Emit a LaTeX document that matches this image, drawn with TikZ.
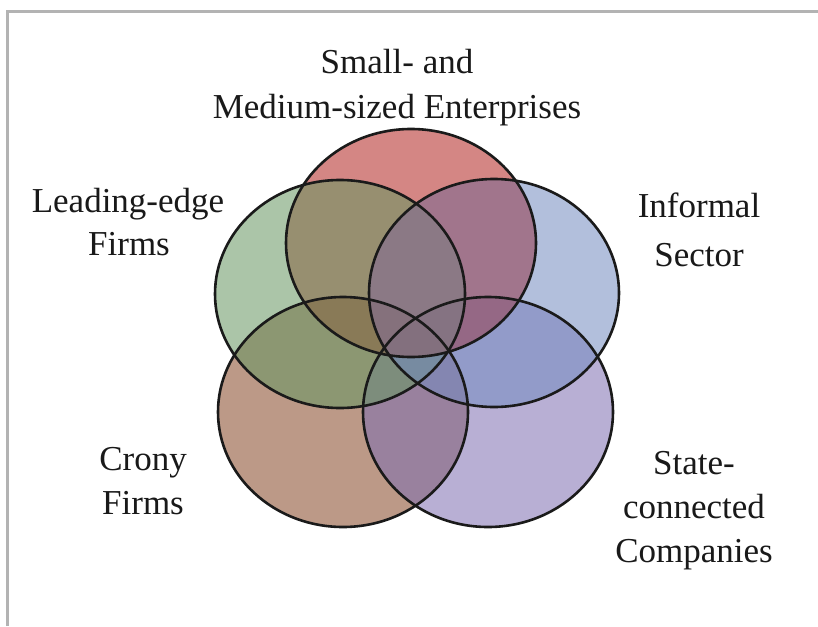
\documentclass[tikz,border=0pt]{standalone}
\usepackage{fontspec}
\setmainfont{Liberation Serif}
\usetikzlibrary{shapes.geometric}
\definecolor{framegray}{HTML}{B3B3B3}
\definecolor{cred}{RGB}{177,35,31}
\definecolor{cgreen}{RGB}{102,151,97}
\definecolor{cblue}{RGB}{115,139,193}
\definecolor{cbrown}{RGB}{133,71,37}
\definecolor{cpurple}{RGB}{126,111,177}
\definecolor{outline}{HTML}{1A1A1A}
\begin{document}
\begin{tikzpicture}[x=1pt,y=-1pt,
  vennfill/.style={ellipse, minimum width=250pt, minimum height=228pt, inner sep=0pt, draw=none, fill opacity=0.55},
  vennline/.style={ellipse, minimum width=250pt, minimum height=228pt, inner sep=0pt, draw=outline, line width=2.6pt},
  lbl/.style={anchor=base, inner sep=0pt, font=\fontsize{35}{45}\selectfont, text=black!90}]
\useasboundingbox (0,0) rectangle (818,626);
\fill[white] (0,0) rectangle (818,626);
\draw[framegray, line width=3pt] (7,626) -- (7,11.5) -- (818,11.5);
% fills
\node[vennfill, fill=cbrown, minimum height=230pt] (crony) at (343,412) {};
\node[vennfill, fill=cpurple, minimum height=230pt] (state) at (488,412) {};
\node[vennfill, fill=cred] (sme) at (411,243) {};
\node[vennfill, fill=cgreen] (lead) at (340,294) {};
\node[vennfill, fill=cblue] (inf) at (494,293) {};
% warm tint where SME and Informal overlap
\begin{scope}
  \clip (sme.center) ellipse [x radius=125pt, y radius=114pt];
  \fill[cred, opacity=0.18] (inf.center) ellipse [x radius=125pt, y radius=114pt];
\end{scope}
% outlines
\node[vennline, minimum height=230pt] at (crony) {};
\node[vennline, minimum height=230pt] at (state) {};
\node[vennline] at (sme) {};
\node[vennline] at (lead) {};
\node[vennline] at (inf) {};
% labels
\node[lbl] (smeA) at (397,73) {Small- and};
\node[lbl] (smeB) at (397,118) {Medium-sized Enterprises};
\node[lbl] (leadA) at (128,212) {Leading-edge};
\node[lbl] (leadB) at (129,255) {Firms};
\node[lbl] (infA) at (699,217) {Informal};
\node[lbl] (infB) at (699,266) {Sector};
\node[lbl] (cronyA) at (143,470) {Crony};
\node[lbl] (cronyB) at (143,514) {Firms};
\node[lbl] (stateA) at (694,474) {State-};
\node[lbl] (stateB) at (694,518) {connected};
\node[lbl] (stateC) at (694,562) {Companies};
\end{tikzpicture}
\end{document}
